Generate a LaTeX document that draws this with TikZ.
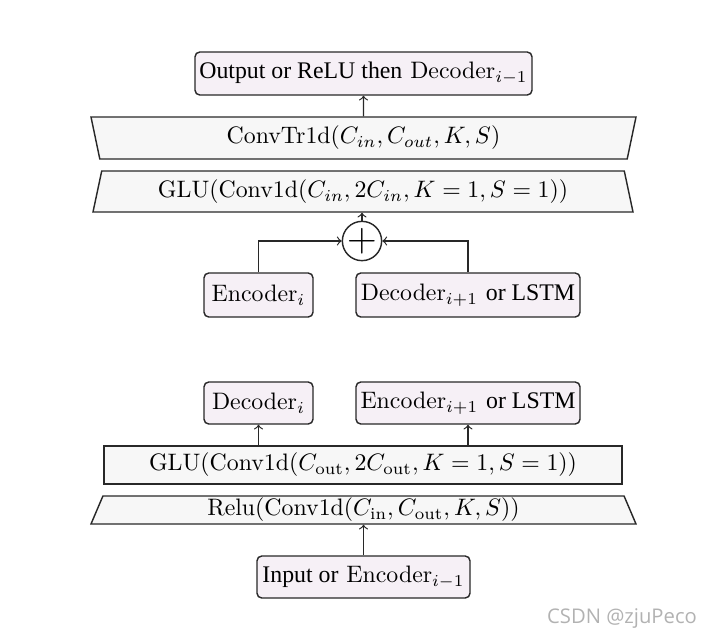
\documentclass[tikz,border=0pt]{standalone}
\usepackage{amsmath}
\usepackage{fontspec}
\newfontfamily\tms{Liberation Serif}
\newfontfamily\wmfont{Open Sans}
\usetikzlibrary{shapes.geometric}
\newcommand{\pxu}{0.42pt}
\definecolor{boxfill}{RGB}{246,240,246}
\definecolor{layerfill}{RGB}{247,247,247}
\definecolor{edgegray}{RGB}{40,40,40}

\begin{document}
\begin{tikzpicture}[x=\pxu, y=-\pxu,
    block/.style={draw=edgegray, line width=0.6pt, fill=boxfill, rounded corners=2pt, inner sep=0pt},
    layer/.style={draw=edgegray, line width=0.6pt, fill=layerfill, inner sep=0pt},
    widetop/.style={layer, trapezium, trapezium stretches body, shape border rotate=180},
    widebot/.style={layer, trapezium, trapezium stretches body},
    sum/.style={circle, draw=edgegray, line width=0.6pt, fill=white, inner sep=0pt, minimum size=33*\pxu, font=\LARGE},
    link/.style={->, edgegray, line width=0.5pt}]

    \useasboundingbox (0,0) rectangle (708,638);

    % decoder
    \node[block, minimum width=337*\pxu, minimum height=43*\pxu] (out) at (363.5, 73.5) {{\tms Output or ReLU then} Decoder$_{i-1}$};
    \node[widetop, trapezium angle=69.7, minimum width=545*\pxu, minimum height=42*\pxu] (convtr) at (363.5, 138) {ConvTr1d($C_{in}, C_{out}, K, S$)};
    \node[widebot, trapezium angle=69.9, minimum width=540*\pxu, minimum height=41*\pxu] (gluD) at (363, 191.5) {GLU(Conv1d($C_{in}, 2C_{in}, K=1, S=1$))};
    \node[sum] (plus) at (362, 241) {$+$};
    \node[block, minimum width=109*\pxu, minimum height=44*\pxu] (enc) at (258.5, 295) {Encoder$_i$};
    \node[block, minimum width=224*\pxu, minimum height=44*\pxu] (dec) at (468, 295) {Decoder$_{i+1}$ {\tms or LSTM}};

    % encoder
    \node[block, minimum width=109*\pxu, minimum height=42*\pxu] (deci) at (258.5, 403) {Decoder$_i$};
    \node[block, minimum width=224*\pxu, minimum height=42*\pxu] (encn) at (468, 403) {Encoder$_{i+1}$ {\tms or LSTM}};
    \node[layer, line width=0.55pt, minimum width=518*\pxu, minimum height=38*\pxu] (gluE) at (363, 465) {GLU(Conv1d($C_{\mathrm{out}}, 2C_{\mathrm{out}}, K=1, S=1$))};
    \node[widebot, trapezium angle=63.4, minimum width=545*\pxu, minimum height=28*\pxu] (relu) at (363.5, 510) {Relu(Conv1d($C_{\mathrm{in}}, C_{\mathrm{out}}, K, S$))};
    \node[block, minimum width=213*\pxu, minimum height=42*\pxu] (inp) at (363.5, 577) {{\tms Input or} Encoder$_{i-1}$};

    \draw[link] (convtr.north) -- (out.south);
    \draw[link] (plus.north) -- (plus.north |- gluD.south);
    \draw[link] (enc.north) |- (plus.west);
    \draw[link] (dec.north) |- (plus.east);
    \draw[link] (deci.south |- gluE.north) -- (deci.south);
    \draw[link] (encn.south |- gluE.north) -- (encn.south);
    \draw[link] (inp.north) -- (inp.north |- relu.south);

    \node[text=gray!60, font=\wmfont\fontsize{8.5}{10}\selectfont] (wm) at (622, 618) {CSDN @zjuPeco};
\end{tikzpicture}
\end{document}
